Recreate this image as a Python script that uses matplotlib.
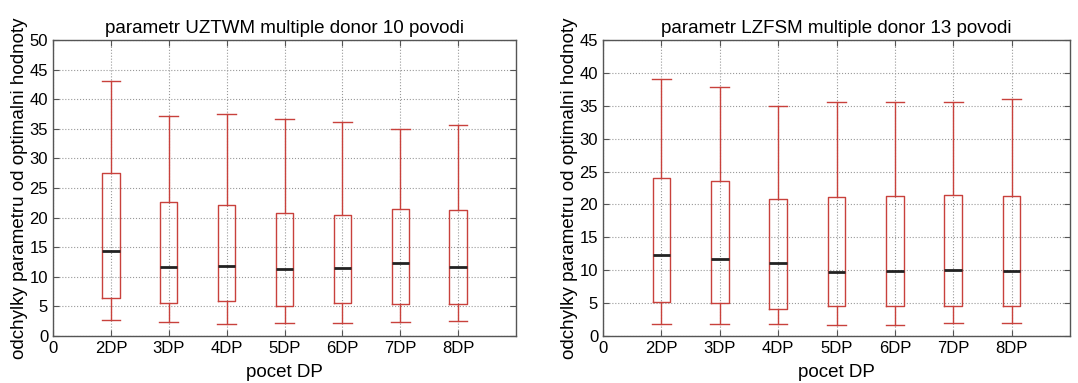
import matplotlib.pyplot as plt

plt.rcParams['font.family'] = ['Liberation Sans', 'DejaVu Sans']

labels = ['2DP', '3DP', '4DP', '5DP', '6DP', '7DP', '8DP']

# UZTWM, 10 povodi
uz_low = [2.7, 2.4, 2.0, 2.25, 2.25, 2.4, 2.6]
uz_q1 = [6.5, 5.5, 5.9, 5.1, 5.6, 5.4, 5.4]
uz_med = [14.4, 11.7, 11.9, 11.3, 11.5, 12.3, 11.7]
uz_q3 = [27.5, 22.7, 22.1, 20.7, 20.4, 21.5, 21.2]
uz_high = [43.0, 37.2, 37.5, 36.7, 36.1, 34.9, 35.6]

# LZFSM, 13 povodi
lz_low = [1.9, 1.9, 1.8, 1.7, 1.7, 2.0, 2.0]
lz_q1 = [5.2, 5.0, 4.05, 4.5, 4.6, 4.5, 4.5]
lz_med = [12.3, 11.7, 11.05, 9.7, 9.9, 10.1, 9.9]
lz_q3 = [24.0, 23.5, 20.9, 21.2, 21.3, 21.5, 21.3]
lz_high = [39.0, 37.8, 34.9, 35.6, 35.5, 35.5, 36.1]

red = '#c8413c'

def stats(low, q1, med, q3, high):
    out = []
    for i in range(len(labels)):
        out.append({'whislo': low[i], 'q1': q1[i], 'med': med[i],
                    'q3': q3[i], 'whishi': high[i], 'fliers': []})
    return out

def draw(ax, st, title, ymax):
    ax.bxp(st, positions=range(1, len(labels) + 1), widths=0.3,
           showfliers=False, capwidths=0.32,
           boxprops=dict(color=red, linewidth=1),
           whiskerprops=dict(color=red, linewidth=1),
           capprops=dict(color=red, linewidth=1),
           medianprops=dict(color='#222222', linewidth=2))
    ax.set_xlim(0, 8)
    ax.set_ylim(0, ymax)
    ax.set_xticks(range(0, len(labels) + 1))
    ax.set_xticklabels(['0'] + labels)
    ax.set_yticks(range(0, ymax + 1, 5))
    ax.grid(True, linestyle=':', color='#999999', linewidth=0.8)
    ax.set_axisbelow(True)
    ax.tick_params(direction='in', top=True, right=True, labelsize=12,
                   length=4, color='#555555')
    for s in ax.spines.values():
        s.set_color('#555555')
        s.set_linewidth(1)
    ax.set_title(title, fontsize=13.5, pad=5)
    ax.set_xlabel('pocet DP', fontsize=13.5, labelpad=6)
    ax.set_ylabel('odchylky parametru od optimalni hodnoty', fontsize=13.5, labelpad=1)

fig = plt.figure(figsize=(10.78, 3.83), dpi=100)
ax1 = fig.add_axes([53 / 1078, 47 / 383, 463 / 1078, 296 / 383])
ax2 = fig.add_axes([603 / 1078, 47 / 383, 467 / 1078, 296 / 383])

draw(ax1, stats(uz_low, uz_q1, uz_med, uz_q3, uz_high),
     'parametr UZTWM multiple donor 10 povodi', 50)
draw(ax2, stats(lz_low, lz_q1, lz_med, lz_q3, lz_high),
     'parametr LZFSM multiple donor 13 povodi', 45)

plt.savefig('out.png', dpi=100)
